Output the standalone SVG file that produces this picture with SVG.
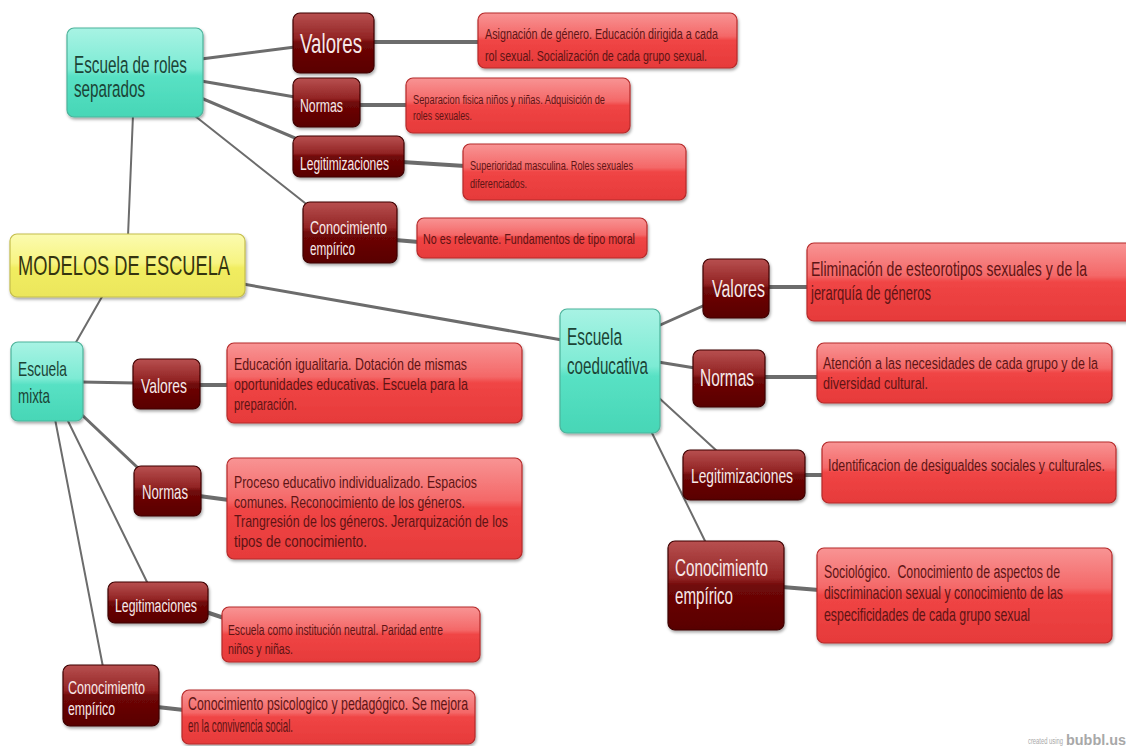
<svg xmlns="http://www.w3.org/2000/svg" width="1126" height="746" viewBox="0 0 1126 746">
<defs>
<linearGradient id="gCy" x1="0" y1="0" x2="0" y2="1">
<stop offset="0" stop-color="#a8f3e4"/><stop offset="0.46" stop-color="#7debd4"/><stop offset="0.54" stop-color="#58e1c4"/><stop offset="1" stop-color="#47d6b6"/>
</linearGradient>
<linearGradient id="gYe" x1="0" y1="0" x2="0" y2="1">
<stop offset="0" stop-color="#fbfbb0"/><stop offset="0.46" stop-color="#f7f481"/><stop offset="0.54" stop-color="#f1ed60"/><stop offset="1" stop-color="#ebe65c"/>
</linearGradient>
<linearGradient id="gDr" x1="0" y1="0" x2="0" y2="1">
<stop offset="0" stop-color="#b85050"/><stop offset="0.42" stop-color="#922424"/><stop offset="0.5" stop-color="#700808"/><stop offset="1" stop-color="#580000"/>
</linearGradient>
<linearGradient id="gLr" x1="0" y1="0" x2="0" y2="1">
<stop offset="0" stop-color="#f89494"/><stop offset="0.42" stop-color="#f46868"/><stop offset="0.5" stop-color="#f04545"/><stop offset="1" stop-color="#e63a3a"/>
</linearGradient>
<filter id="sh" x="-10%" y="-10%" width="120%" height="130%">
<feDropShadow dx="1" dy="2" stdDeviation="1.5" flood-color="#000" flood-opacity="0.35"/>
</filter>
</defs>
<style>
text{font-family:"Liberation Sans",Arial,sans-serif}
.cy rect{fill:url(#gCy);stroke:#4db39b;stroke-width:1.2;filter:url(#sh)}
.cy text{fill:#1b4436}
.ye rect{fill:url(#gYe);stroke:#c4bd4c;stroke-width:1.2;filter:url(#sh)}
.ye text{fill:#34340f}
.dr rect{fill:url(#gDr);stroke:#3e0000;stroke-width:1.2;filter:url(#sh)}
.dr text{fill:#f7e9e9}
.lr rect{fill:url(#gLr);stroke:#b52a2a;stroke-width:1.2;filter:url(#sh)}
.lr text{fill:#5e1414}
#connectors path{fill:none;stroke:#6c6c6c;stroke-linecap:round}
.w4{stroke-width:4}.w3{stroke-width:3}.w2{stroke-width:2}
.wm{fill:#a8a8a8}
</style>
<rect x="0" y="0" width="1126" height="746" fill="#ffffff"/>
<g id="connectors">
<path class="w2" d="M133,115 L128,236"/>
<path class="w3" d="M201,59 L295,47"/>
<path class="w3" d="M201,81 L295,97"/>
<path class="w3" d="M201,98 L295,138"/>
<path class="w2" d="M195,116 L305,203"/>
<path class="w4" d="M372,42 L480,42"/>
<path class="w4" d="M358,105 L408,105"/>
<path class="w4" d="M402,162 L465,166"/>
<path class="w4" d="M395,240 L419,242"/>
<path class="w2" d="M103,295 L75,344"/>
<path class="w3" d="M243,284 L562,340"/>
<path class="w3" d="M81,382 L135,383"/>
<path class="w3" d="M81,414 L138,468"/>
<path class="w2" d="M67,419 L148,584"/>
<path class="w2" d="M55,419 L103,667"/>
<path class="w4" d="M198,385 L229,385"/>
<path class="w4" d="M199,496 L229,500"/>
<path class="w4" d="M206,612 L224,618"/>
<path class="w4" d="M157,707 L184,710"/>
<path class="w3" d="M658,326 L705,305"/>
<path class="w3" d="M658,362 L695,368"/>
<path class="w2" d="M658,397 L718,452"/>
<path class="w2" d="M651,431 L706,543"/>
<path class="w4" d="M767,287 L809,287"/>
<path class="w4" d="M763,377 L819,377"/>
<path class="w4" d="M803,475 L824,475"/>
<path class="w4" d="M782,587 L819,590"/>
</g>
<g id="n-roles" class="cy">
<rect x="67" y="28" width="136" height="89" rx="7"/>
<text transform="translate(74,73) scale(1,1.538)" font-size="15" textLength="113" lengthAdjust="spacingAndGlyphs">Escuela de roles</text>
<text transform="translate(74,97) scale(1,1.538)" font-size="15" textLength="71" lengthAdjust="spacingAndGlyphs">separados</text>
</g>
<g id="n-modelos" class="ye">
<rect x="10" y="234" width="235" height="63" rx="7"/>
<text transform="translate(18,275) scale(1,1.538)" font-size="18.2" textLength="212" lengthAdjust="spacingAndGlyphs">MODELOS DE ESCUELA</text>
</g>
<g id="n-mixta" class="cy">
<rect x="11" y="342" width="72" height="79" rx="7"/>
<text transform="translate(18,375.5) scale(1,1.538)" font-size="13.65" textLength="49" lengthAdjust="spacingAndGlyphs">Escuela</text>
<text transform="translate(18,402.5) scale(1,1.538)" font-size="13.65" textLength="32" lengthAdjust="spacingAndGlyphs">mixta</text>
</g>
<g id="n-coed" class="cy">
<rect x="560" y="309" width="100" height="124" rx="7"/>
<text transform="translate(567,345) scale(1,1.538)" font-size="15" textLength="55" lengthAdjust="spacingAndGlyphs">Escuela</text>
<text transform="translate(567,374) scale(1,1.538)" font-size="15" textLength="81" lengthAdjust="spacingAndGlyphs">coeducativa</text>
</g>
<g id="n-r-valores" class="dr">
<rect x="293" y="13" width="81" height="60" rx="7"/>
<text transform="translate(300,53) scale(1,1.538)" font-size="18.2" textLength="62" lengthAdjust="spacingAndGlyphs">Valores</text>
</g>
<g id="n-r-normas" class="dr">
<rect x="293" y="78" width="67" height="49" rx="7"/>
<text transform="translate(300,112) scale(1,1.538)" font-size="12.35" textLength="43" lengthAdjust="spacingAndGlyphs">Normas</text>
</g>
<g id="n-r-legit" class="dr">
<rect x="293" y="136" width="111" height="41" rx="7"/>
<text transform="translate(300,170) scale(1,1.538)" font-size="12" textLength="89" lengthAdjust="spacingAndGlyphs">Legitimizaciones</text>
</g>
<g id="n-r-conoc" class="dr">
<rect x="303" y="202" width="94" height="61" rx="7"/>
<text transform="translate(310,233.5) scale(1,1.538)" font-size="11.7" textLength="77" lengthAdjust="spacingAndGlyphs">Conocimiento</text>
<text transform="translate(310,254.5) scale(1,1.538)" font-size="11.7" textLength="45" lengthAdjust="spacingAndGlyphs">empírico</text>
</g>
<g id="n-r-valores-d" class="lr">
<rect x="478" y="13" width="259" height="55" rx="7"/>
<text transform="translate(485,38.5) scale(1,1.538)" font-size="9.75" textLength="233" lengthAdjust="spacingAndGlyphs">Asignación de género. Educación dirigida a cada</text>
<text transform="translate(485,60.5) scale(1,1.538)" font-size="9.75" textLength="222" lengthAdjust="spacingAndGlyphs">rol sexual. Socialización de cada grupo sexual.</text>
</g>
<g id="n-r-normas-d" class="lr">
<rect x="406" y="78" width="224" height="55" rx="7"/>
<text transform="translate(413,103.5) scale(1,1.538)" font-size="8.1" textLength="192" lengthAdjust="spacingAndGlyphs">Separacion fisica niños y niñas. Adquisición de</text>
<text transform="translate(413,119.5) scale(1,1.538)" font-size="8.1" textLength="59" lengthAdjust="spacingAndGlyphs">roles sexuales.</text>
</g>
<g id="n-r-legit-d" class="lr">
<rect x="463" y="144" width="223" height="56" rx="7"/>
<text transform="translate(470,169.5) scale(1,1.538)" font-size="8.1" textLength="163" lengthAdjust="spacingAndGlyphs">Superioridad masculina. Roles sexuales</text>
<text transform="translate(470,187.5) scale(1,1.538)" font-size="8.1" textLength="57" lengthAdjust="spacingAndGlyphs">diferenciados.</text>
</g>
<g id="n-r-conoc-d" class="lr">
<rect x="417" y="218" width="230" height="40" rx="7"/>
<text transform="translate(423,243.5) scale(1,1.538)" font-size="10" textLength="212" lengthAdjust="spacingAndGlyphs">No es relevante. Fundamentos de tipo moral</text>
</g>
<g id="n-m-valores" class="dr">
<rect x="133" y="359" width="67" height="50" rx="7"/>
<text transform="translate(141,392.5) scale(1,1.538)" font-size="13.65" textLength="46" lengthAdjust="spacingAndGlyphs">Valores</text>
</g>
<g id="n-m-normas" class="dr">
<rect x="134" y="466" width="67" height="50" rx="7"/>
<text transform="translate(142,499) scale(1,1.538)" font-size="13" textLength="46" lengthAdjust="spacingAndGlyphs">Normas</text>
</g>
<g id="n-m-legit" class="dr">
<rect x="108" y="582" width="100" height="41" rx="7"/>
<text transform="translate(115,612) scale(1,1.538)" font-size="12.35" textLength="82" lengthAdjust="spacingAndGlyphs">Legitimaciones</text>
</g>
<g id="n-m-conoc" class="dr">
<rect x="63" y="665" width="96" height="61" rx="7"/>
<text transform="translate(68,694) scale(1,1.538)" font-size="12.35" textLength="77" lengthAdjust="spacingAndGlyphs">Conocimiento</text>
<text transform="translate(68,715) scale(1,1.538)" font-size="12.35" textLength="47" lengthAdjust="spacingAndGlyphs">empírico</text>
</g>
<g id="n-m-valores-d" class="lr">
<rect x="227" y="343" width="295" height="80" rx="7"/>
<text transform="translate(234,370) scale(1,1.538)" font-size="10.4" textLength="233" lengthAdjust="spacingAndGlyphs">Educación igualitaria. Dotación de mismas</text>
<text transform="translate(234,390) scale(1,1.538)" font-size="10.4" textLength="234" lengthAdjust="spacingAndGlyphs">oportunidades educativas. Escuela para la</text>
<text transform="translate(234,410) scale(1,1.538)" font-size="10.4" textLength="63" lengthAdjust="spacingAndGlyphs">preparación.</text>
</g>
<g id="n-m-normas-d" class="lr">
<rect x="227" y="458" width="295" height="101" rx="7"/>
<text transform="translate(234,488) scale(1,1.538)" font-size="10.4" textLength="243" lengthAdjust="spacingAndGlyphs">Proceso educativo individualizado. Espacios</text>
<text transform="translate(234,508) scale(1,1.538)" font-size="10.4" textLength="231" lengthAdjust="spacingAndGlyphs">comunes. Reconocimiento de los géneros.</text>
<text transform="translate(234,527) scale(1,1.538)" font-size="10.4" textLength="274" lengthAdjust="spacingAndGlyphs">Trangresión de los géneros. Jerarquización de los</text>
<text transform="translate(234,547) scale(1,1.538)" font-size="10.4" textLength="133" lengthAdjust="spacingAndGlyphs">tipos de conocimiento.</text>
</g>
<g id="n-m-legit-d" class="lr">
<rect x="222" y="607" width="258" height="55" rx="7"/>
<text transform="translate(228,634.5) scale(1,1.538)" font-size="9.75" textLength="215" lengthAdjust="spacingAndGlyphs">Escuela como institución neutral. Paridad entre</text>
<text transform="translate(228,653.5) scale(1,1.538)" font-size="9.75" textLength="65" lengthAdjust="spacingAndGlyphs">niños y niñas.</text>
</g>
<g id="n-m-conoc-d" class="lr">
<rect x="182" y="690" width="293" height="54" rx="7"/>
<text transform="translate(188,709.5) scale(1,1.538)" font-size="11.4" textLength="280" lengthAdjust="spacingAndGlyphs">Conocimiento psicologico y pedagógico. Se mejora</text>
<text transform="translate(188,731.5) scale(1,1.538)" font-size="11.4" textLength="105" lengthAdjust="spacingAndGlyphs">en la convivencia social.</text>
</g>
<g id="n-c-valores" class="dr">
<rect x="703" y="259" width="66" height="59" rx="7"/>
<text transform="translate(712,296.5) scale(1,1.538)" font-size="15.6" textLength="53" lengthAdjust="spacingAndGlyphs">Valores</text>
</g>
<g id="n-c-normas" class="dr">
<rect x="693" y="350" width="72" height="57" rx="7"/>
<text transform="translate(700,385.5) scale(1,1.538)" font-size="15.3" textLength="54" lengthAdjust="spacingAndGlyphs">Normas</text>
</g>
<g id="n-c-legit" class="dr">
<rect x="683" y="450" width="122" height="50" rx="7"/>
<text transform="translate(691,482.5) scale(1,1.538)" font-size="13.65" textLength="102" lengthAdjust="spacingAndGlyphs">Legitimizaciones</text>
</g>
<g id="n-c-conoc" class="dr">
<rect x="668" y="541" width="116" height="89" rx="7"/>
<text transform="translate(675,575.5) scale(1,1.538)" font-size="15.3" textLength="93" lengthAdjust="spacingAndGlyphs">Conocimiento</text>
<text transform="translate(675,603.5) scale(1,1.538)" font-size="15.3" textLength="58" lengthAdjust="spacingAndGlyphs">empírico</text>
</g>
<g id="n-c-valores-d" class="lr">
<rect x="807" y="243" width="330" height="78" rx="7"/>
<text transform="translate(811,276) scale(1,1.538)" font-size="13" textLength="276" lengthAdjust="spacingAndGlyphs">Eliminación de esteorotipos sexuales y de la</text>
<text transform="translate(811,300) scale(1,1.538)" font-size="13" textLength="120" lengthAdjust="spacingAndGlyphs">jerarquía de géneros</text>
</g>
<g id="n-c-normas-d" class="lr">
<rect x="817" y="343" width="295" height="60" rx="7"/>
<text transform="translate(823,369) scale(1,1.538)" font-size="11" textLength="275" lengthAdjust="spacingAndGlyphs">Atención a las necesidades de cada grupo y de la</text>
<text transform="translate(823,389) scale(1,1.538)" font-size="11" textLength="105" lengthAdjust="spacingAndGlyphs">diversidad cultural.</text>
</g>
<g id="n-c-legit-d" class="lr">
<rect x="822" y="442" width="294" height="61" rx="7"/>
<text transform="translate(828,471) scale(1,1.538)" font-size="11" textLength="277" lengthAdjust="spacingAndGlyphs">Identificacion de desigualdes sociales y culturales.</text>
</g>
<g id="n-c-conoc-d" class="lr">
<rect x="817" y="548" width="295" height="95" rx="7"/>
<text transform="translate(824,578) scale(1,1.538)" font-size="11.4" textLength="236" lengthAdjust="spacingAndGlyphs" xml:space="preserve">Sociológico.  Conocimiento de aspectos de</text>
<text transform="translate(824,599) scale(1,1.538)" font-size="11.4" textLength="239" lengthAdjust="spacingAndGlyphs">discriminacion sexual y conocimiento de las</text>
<text transform="translate(824,621) scale(1,1.538)" font-size="11.4" textLength="206" lengthAdjust="spacingAndGlyphs">especificidades de cada grupo sexual</text>
</g>
<g id="watermark">
<text class="wm" transform="translate(1028,744) scale(1,1.5)" font-size="6" textLength="35" lengthAdjust="spacingAndGlyphs">created using</text>
<text class="wm" x="1066" y="745" font-size="14" font-weight="bold" textLength="60" lengthAdjust="spacingAndGlyphs">bubbl.us</text>
</g>
</svg>
